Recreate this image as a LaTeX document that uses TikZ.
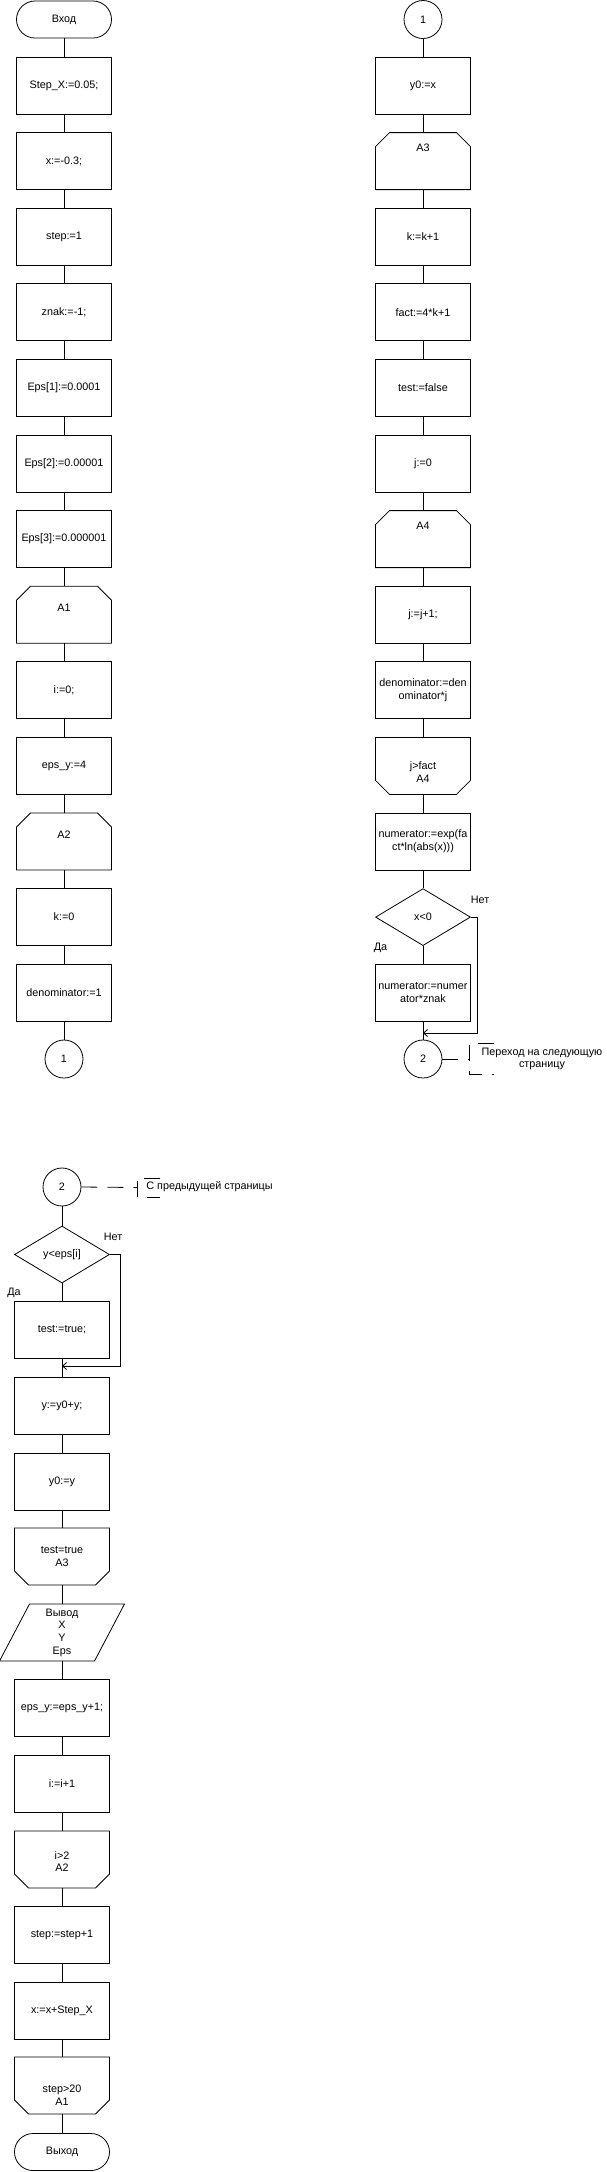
\documentclass[tikz,border=0pt]{standalone}
\usepackage{fontspec}
\setmainfont{Liberation Sans}
\usetikzlibrary{arrows.meta, shapes.geometric}

% outlines of the loop and output blocks, drawn round a named node
\newcommand{\loopbeg}[1]{\draw (#1.south west) -- ([yshift=-14pt]#1.north west) -- ([xshift=14pt]#1.north west) -- ([xshift=-14pt]#1.north east) -- ([yshift=-14pt]#1.north east) -- (#1.south east) -- cycle;}
\newcommand{\loopend}[1]{\draw (#1.north west) -- ([yshift=14pt]#1.south west) -- ([xshift=14pt]#1.south west) -- ([xshift=-14pt]#1.south east) -- ([yshift=14pt]#1.south east) -- (#1.north east) -- cycle;}
\newcommand{\ioshape}[1]{\draw ([xshift=15pt]#1.north west) -- ([xshift=15pt]#1.north east) -- ([xshift=-15pt]#1.south east) -- ([xshift=-15pt]#1.south west) -- cycle;}

\begin{document}
\begin{tikzpicture}[x=1pt, y=-1pt, line width=0.8pt,
    font=\fontsize{10.8pt}{12.7pt}\selectfont,
    >={Straight Barb[length=4pt,width=7pt]},
    box/.style={draw, minimum width=95pt, minimum height=57pt, inner sep=1pt, align=center},
    cutbox/.style={minimum width=95pt, minimum height=57pt, inner sep=0pt, outer sep=0pt},
    term/.style={draw, rounded corners=18.5pt, minimum width=95pt, minimum height=37pt},
    conn/.style={draw, circle, minimum size=38pt, inner sep=0pt},
    cond/.style={draw, diamond, minimum width=95pt, minimum height=57pt, inner sep=0pt},
    lbl/.style={align=center, inner sep=0pt},
    dashline/.style={dash pattern=on 16pt off 10pt}]
    \useasboundingbox (0,0) rectangle (606,2172);

    % Page 1, left column
    \node[term] (en) at (64,19.5) {Вход};
    \node[box] (s1) at (64,85.5) {Step\_X:=0.05;};
    \node[box] (s2) at (64,161.1) {x:=-0.3;};
    \node[box] (s3) at (64,236.7) {step:=1};
    \node[box] (s4) at (64,312.3) {znak:=-1;};
    \node[box] (s5) at (64,387.9) {Eps[1]:=0.0001};
    \node[box] (s6) at (64,463.5) {Eps[2]:=0.00001};
    \node[box] (s7) at (64,539.1) {Eps[3]:=0.000001};
    \node[cutbox] (a1) at (64,614.7) {}; \loopbeg{a1}
    \node[lbl] (a1t) at (64,608) {A1};
    \node[box] (s8) at (64,690.3) {i:=0;};
    \node[box] (s9) at (64,765.9) {eps\_y:=4};
    \node[cutbox] (a2) at (64,841.5) {}; \loopbeg{a2}
    \node[lbl] (a2t) at (64,834.6) {A2};
    \node[box] (s10) at (64,917.1) {k:=0};
    \node[box] (s11) at (64,992.7) {denominator:=1};
    \node[conn] (c1) at (64,1059) {1};

    \draw (en) -- (s1) (s1) -- (s2) (s2) -- (s3) (s3) -- (s4) (s4) -- (s5) (s5) -- (s6) (s6) -- (s7);
    \draw (s7) -- (a1) (a1) -- (s8) (s8) -- (s9) (s9) -- (a2) (a2) -- (s10) (s10) -- (s11) (s11) -- (c1);

    % Page 1, right column
    \node[conn] (r0) at (423,19.5) {1};
    \node[box] (r1) at (423,85.5) {y0:=x};
    \node[cutbox] (a3) at (423,161.1) {}; \loopbeg{a3}
    \node[lbl] (a3t) at (423,147.5) {A3};
    \node[box] (r2) at (423,236.7) {k:=k+1};
    \node[box] (r3) at (423,312.3) {fact:=4*k+1};
    \node[box] (r4) at (423,387.9) {test:=false};
    \node[box] (r5) at (423,463.5) {j:=0};
    \node[cutbox] (a4) at (423,539.1) {}; \loopbeg{a4}
    \node[lbl] (a4t) at (423,525.7) {A4};
    \node[box] (r6) at (423,614.7) {j:=j+1;};
    \node[box] (r7) at (423,690.3) {denominator:=den\\ominator*j};
    \node[cutbox] (e4) at (423,765.9) {}; \loopend{e4}
    \node[lbl] (e4t) at (423,772) {j>fact\\A4};
    \node[box] (r8) at (423,841.5) {numerator:=exp(fa\\ct*ln(abs(x)))};
    \node[cond] (d1) at (423,917.1) {x<0};
    \node[box] (r9) at (423,992.7) {numerator:=numer\\ator*znak};
    \node[conn] (r10) at (423,1059) {2};
    \coordinate (m1) at (423,1033);
    \node[lbl] (no1) at (480,900) {Нет};
    \node[lbl] (da1) at (380.5,948) {Да};

    \draw (r0) -- (r1) (r1) -- (a3) (a3) -- (r2) (r2) -- (r3) (r3) -- (r4) (r4) -- (r5) (r5) -- (a4);
    \draw (a4) -- (r6) (r6) -- (r7) (r7) -- (e4) (e4) -- (r8) (r8) -- (d1) (d1) -- (r9) (r9) -- (r10);
    \draw[->] (d1.east) -- ++(6.5,0) |- (m1);

    % Comment: to the next page
    \coordinate (n1) at (469.5,1059);
    \draw[dashline] (r10.east) -- (n1);
    \draw[dashline] (n1) ++(24.5,-15.5) -- ++(-24.5,0) -- ++(0,31) -- ++(24.5,0);
    \node[lbl] (t1) at (542,1059) {Переход на следующую\\страницу};

    % Page 2
    \node[conn] (p0) at (62,1187) {2};
    \node[cond] (d2) at (62,1254.5) {y<eps[i]};
    \node[box] (p1) at (62,1330) {test:=true;};
    \coordinate (m2) at (62,1366);
    \node[box] (p2) at (62,1405.5) {y:=y0+y;};
    \node[box] (p3) at (62,1481.5) {y0:=y};
    \node[cutbox] (e3) at (62,1556.5) {}; \loopend{e3}
    \node[lbl] (e3t) at (62,1556.7) {test=true\\A3};
    \node[cutbox] (io) at (62,1632.5) {}; \ioshape{io}
    \node[lbl] (iot) at (62,1632.5) {Вывод\\X\\Y\\Eps};
    \node[box] (p4) at (62,1708) {eps\_y:=eps\_y+1;};
    \node[box] (p5) at (62,1784) {i:=i+1};
    \node[cutbox] (e2) at (62,1859.5) {}; \loopend{e2}
    \node[lbl] (e2t) at (62,1861.5) {i>2\\A2};
    \node[box] (p6) at (62,1935) {step:=step+1};
    \node[box] (p7) at (62,2010.5) {x:=x+Step\_X};
    \node[cutbox] (e1) at (62,2085.5) {}; \loopend{e1}
    \node[lbl] (e1t) at (62,2095.5) {step>20\\A1};
    \node[term] (ex) at (62,2152) {Выход};
    \node[lbl] (no2) at (113,1236.7) {Нет};
    \node[lbl] (da2) at (14,1292.7) {Да};

    \draw (p0) -- (d2) (d2) -- (p1) (p1) -- (p2) (p2) -- (p3) (p3) -- (e3) (e3) -- (io) (io) -- (p4);
    \draw (p4) -- (p5) (p5) -- (e2) (e2) -- (p6) (p6) -- (p7) (p7) -- (e1) (e1) -- (ex);
    \draw[->] (d2.east) -- ++(10,0) |- (m2);

    % Comment: from the previous page
    \coordinate (n2) at (137,1187.5);
    \draw[dashline] (p0.east) -- (n2);
    \draw[dashline] (n2) ++(23,-9.5) -- ++(-23,0) -- ++(0,19) -- ++(23,0);
    \node[lbl, anchor=west] (t2) at (146,1187) {С предыдущей страницы};
\end{tikzpicture}
\end{document}
